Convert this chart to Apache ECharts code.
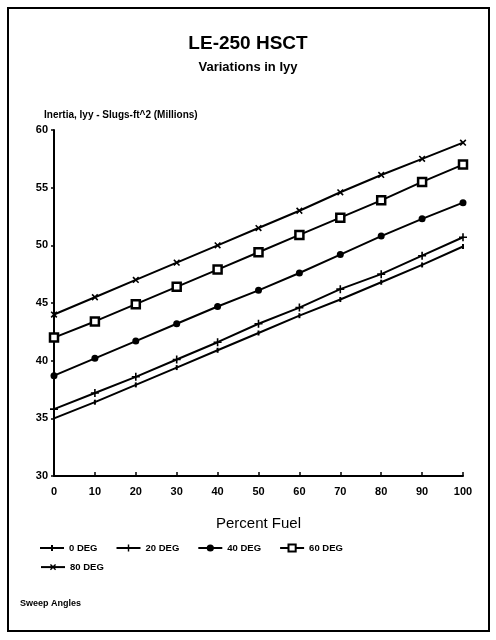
<!DOCTYPE html>
<html>
<head>
<meta charset="utf-8">
<script src="https://cdn.jsdelivr.net/npm/echarts@6/dist/echarts.min.js"></script>
<style>
  html, body { margin: 0; padding: 0; background: #fff; }
  #chart { width: 496px; height: 640px; }
</style>
</head>
<body>
<div id="chart"></div>
<script>
// Percent fuel on the x axis
const fuelPct = ['0', '10', '20', '30', '40', '50', '60', '70', '80', '90', '100'];
// Pitch inertia Iyy (millions of slug-ft^2) for each wing sweep angle
const sweep0  = [35.0, 36.4, 37.9, 39.4, 40.9, 42.4, 43.9, 45.3, 46.8, 48.3, 49.9];
const sweep20 = [35.8, 37.2, 38.6, 40.1, 41.6, 43.2, 44.6, 46.2, 47.5, 49.1, 50.7];
const sweep40 = [38.7, 40.2, 41.7, 43.2, 44.7, 46.1, 47.6, 49.2, 50.8, 52.3, 53.7];
const sweep60 = [42.0, 43.4, 44.9, 46.4, 47.9, 49.4, 50.9, 52.4, 53.9, 55.5, 57.0];
const sweep80 = [44.0, 45.5, 47.0, 48.5, 50.0, 51.5, 53.0, 54.6, 56.1, 57.5, 58.9];
const seriesNames = ['0 DEG', '20 DEG', '40 DEG', '60 DEG', '80 DEG'];
const yTicks = [30, 35, 40, 45, 50, 55, 60];

const FONT = '"Liberation Sans", Arial, sans-serif';
const PLUS = 'path://M4,0H6V4H10V6H6V10H4V6H0V4H4Z';
const TICK = 'path://M0,0H2V10H0Z';
const LINE_TICK = 'path://M0,4H24V6H0Z M11,2H13V8H11Z';

const chart = echarts.init(document.getElementById('chart'), null, { renderer: 'canvas' });

function lineSeries(name, data, symbol, size, extra) {
  return Object.assign({
    name: name,
    type: 'line',
    data: data,
    symbol: symbol,
    symbolSize: size,
    showAllSymbol: true,
    lineStyle: { color: '#000', width: 2 },
    itemStyle: { color: '#000' },
    emphasis: { disabled: true },
    animation: false
  }, extra || {});
}

const legendText = { fontFamily: FONT, fontWeight: 'bold', fontSize: 9.5, color: '#000' };

chart.setOption({
  backgroundColor: '#fff',
  graphic: [
    {
      type: 'rect',
      shape: { x: 8, y: 8, width: 481, height: 623 },
      style: { fill: 'none', stroke: '#000', lineWidth: 2 },
      silent: true
    },
    {
      type: 'text',
      left: 20, top: 599,
      style: { text: 'Sweep Angles', font: 'bold 9px ' + FONT, fill: '#000' }
    }
  ],
  title: [
    {
      text: 'LE-250 HSCT',
      left: 'center', top: 34, padding: 0,
      textStyle: { fontFamily: FONT, fontWeight: 'bold', fontSize: 19, color: '#000' }
    },
    {
      text: 'Variations in Iyy',
      left: 'center', top: 61, padding: 0,
      textStyle: { fontFamily: FONT, fontWeight: 'bold', fontSize: 13, color: '#000' }
    },
    {
      text: 'Inertia, Iyy - Slugs-ft^2 (Millions)',
      left: 44, top: 110, padding: 0,
      textStyle: { fontFamily: FONT, fontWeight: 'bold', fontSize: 10, color: '#000' }
    }
  ],
  legend: [
    {
      left: 40, top: 543, padding: 0,
      itemWidth: 24, itemHeight: 9, itemGap: 18,
      data: [
        { name: seriesNames[0], icon: LINE_TICK },
        seriesNames[1], seriesNames[2], seriesNames[3]
      ],
      textStyle: legendText,
      selectedMode: false
    },
    {
      left: 40, top: 562, padding: 0,
      itemWidth: 24, itemHeight: 9,
      data: [seriesNames[4]],
      textStyle: legendText,
      selectedMode: false
    }
  ],
  grid: { left: 54, right: 33, top: 130, bottom: 164, containLabel: false },
  xAxis: {
    type: 'category',
    data: fuelPct,
    boundaryGap: false,
    name: 'Percent Fuel',
    nameLocation: 'middle',
    nameGap: 40,
    nameTextStyle: { fontFamily: FONT, fontSize: 15, color: '#000' },
    axisLine: { lineStyle: { color: '#000', width: 2 } },
    axisTick: { inside: true, length: 4, lineStyle: { color: '#000', width: 1.5 } },
    axisLabel: { fontFamily: FONT, fontWeight: 'bold', fontSize: 11, color: '#000', margin: 10 },
    splitLine: { show: false }
  },
  yAxis: {
    type: 'value',
    min: yTicks[0], max: yTicks[yTicks.length - 1], interval: 5,
    axisLine: { show: true, lineStyle: { color: '#000', width: 2 } },
    axisTick: { show: true, length: 3, lineStyle: { color: '#000', width: 1.5 } },
    axisLabel: { fontFamily: FONT, fontWeight: 'bold', fontSize: 11, color: '#000', margin: 6 },
    splitLine: { show: false }
  },
  series: [
    lineSeries('0 DEG', sweep0, TICK, [2, 5]),
    lineSeries('20 DEG', sweep20, PLUS, 8),
    lineSeries('40 DEG', sweep40, 'circle', 7),
    lineSeries('60 DEG', sweep60, 'rect', 8, {
      itemStyle: { color: '#fff', borderColor: '#000', borderWidth: 2.5 }
    }),
    lineSeries('80 DEG', sweep80, PLUS, 8, { symbolRotate: 45 })
  ]
});
</script>
</body>
</html>
